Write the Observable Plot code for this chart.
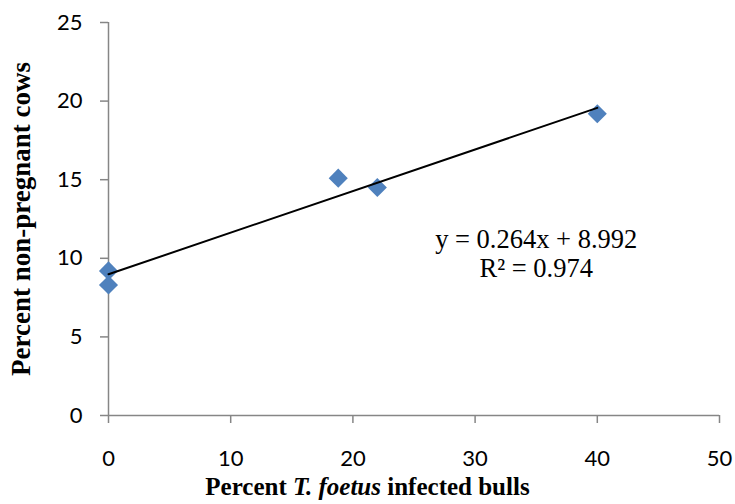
<!DOCTYPE html>
<html>
<head>
<meta charset="utf-8">
<script src="https://cdn.jsdelivr.net/npm/d3@7"></script>
<script src="https://cdn.jsdelivr.net/npm/@observablehq/plot@0.6"></script>
<style>
  html, body { margin: 0; padding: 0; background: #fff; }
  #chart svg { display: block; }
</style>
</head>
<body>
<div id="chart"></div>
<script>
// Data
const infectedBulls = [0, 0, 18.8, 22, 40];          // Percent T. foetus infected bulls
const nonPregnantCows = [9.2, 8.3, 15.1, 14.5, 19.2]; // Percent non-pregnant cows
const xTicks = [0, 10, 20, 30, 40, 50];
const yTicks = [0, 5, 10, 15, 20, 25];
const equationText = "y = 0.264x + 8.992\nR² = 0.974";
const xTitleParts = [
  {text: "Percent ", italic: false},
  {text: "T. foetus", italic: true},
  {text: " infected bulls", italic: false}
];
const yTitle = "Percent non-pregnant cows";

const data = infectedBulls.map((x, i) => ({x, y: nonPregnantCows[i]}));

const axisColor = "#868686";
const W = 735, H = 504;
const mTop = 22, mRight = 16, mBottom = 89, mLeft = 108;

const chart = Plot.plot({
  width: W,
  height: H,
  marginTop: mTop,
  marginRight: mRight,
  marginBottom: mBottom,
  marginLeft: mLeft,
  style: {fontFamily: "Lato, sans-serif", fontSize: "21px", color: "black", background: "white"},
  x: {domain: [0, 50]},
  y: {domain: [0, 25]},
  marks: [
    Plot.axisX({ticks: xTicks, tickSize: 8, tickPadding: 27, stroke: axisColor, strokeWidth: 1.5, fill: "black", label: null, fontSize: 22}),
    Plot.axisY({ticks: yTicks, tickSize: 8, tickPadding: 18, stroke: axisColor, strokeWidth: 1.5, fill: "black", label: null, fontSize: 22}),
    Plot.ruleY([0], {stroke: axisColor, strokeWidth: 1.5}),
    Plot.ruleX([0], {stroke: axisColor, strokeWidth: 1.5}),
    Plot.dot(data, {x: "x", y: "y", symbol: "diamond2", r: 8.6, fill: "#4F81BD", stroke: "none"}),
    Plot.linearRegressionY(data, {x: "x", y: "y", stroke: "black", strokeWidth: 2, ci: 0}),
    Plot.text([equationText], {
      x: 35, y: 10.35, text: d => d,
      fontFamily: "'Liberation Serif', 'Times New Roman', serif",
      fontSize: 26.5, lineHeight: 1.1, textAnchor: "middle", fill: "black"
    })
  ]
});

document.getElementById("chart").appendChild(chart);

// Axis titles with mixed styling, as real SVG text
const svg = d3.select(chart);
const xt = svg.append("text")
  .attr("x", W / 2)
  .attr("y", 495)
  .attr("text-anchor", "middle")
  .attr("font-family", "'Liberation Serif', 'Times New Roman', serif")
  .attr("font-weight", "bold")
  .attr("font-size", 25)
  .attr("fill", "black");
xTitleParts.forEach(p => {
  xt.append("tspan").attr("font-style", p.italic ? "italic" : "normal").text(p.text);
});

svg.append("text")
  .attr("transform", `translate(30, 219) rotate(-90)`)
  .attr("text-anchor", "middle")
  .attr("font-family", "'Liberation Serif', 'Times New Roman', serif")
  .attr("font-weight", "bold")
  .attr("font-size", 27)
  .attr("fill", "black")
  .text(yTitle);
</script>
</body>
</html>
